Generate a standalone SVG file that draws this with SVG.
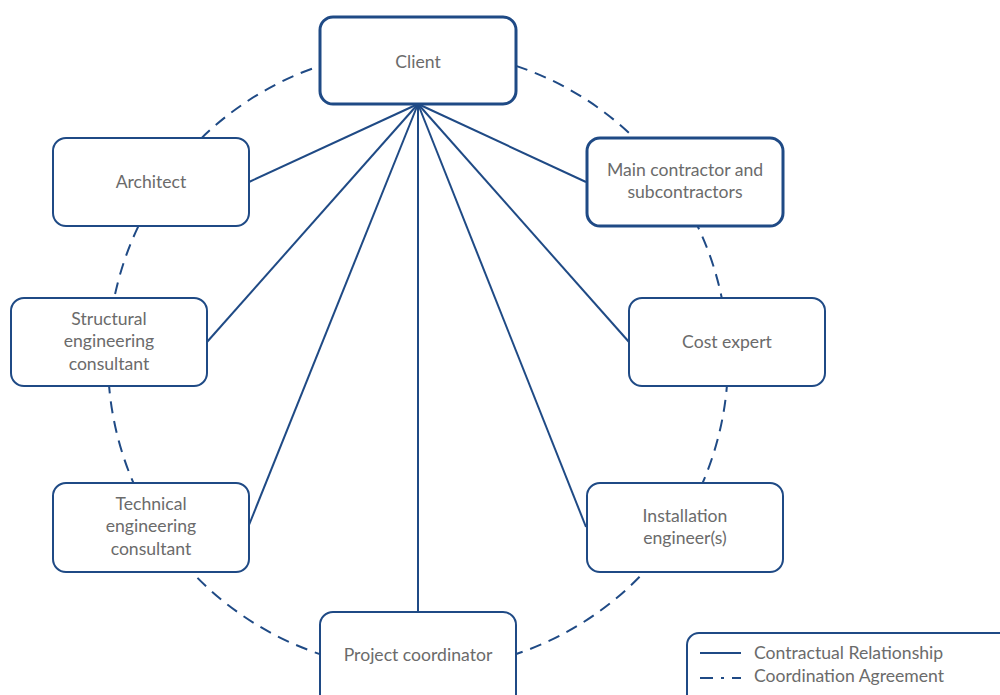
<svg xmlns="http://www.w3.org/2000/svg" width="1000" height="695" viewBox="0 0 1000 695">
  <style>
    .node { fill: #ffffff; stroke: #1f4a85; stroke-width: 2; }
    .key { fill: #ffffff; stroke: #1f4a85; stroke-width: 3; }
    .label { font-family: Lato, "Liberation Sans", sans-serif; font-size: 17.6px; fill: #6b6b6b; text-anchor: middle; }
    .legend-text { font-family: Lato, "Liberation Sans", sans-serif; font-size: 17.6px; fill: #6b6b6b; }
    .contract { stroke: #1f4a85; stroke-width: 2; fill: none; }
    .coord { stroke: #1f4a85; stroke-width: 2; fill: none; stroke-dasharray: 12 8; }
  </style>
  <rect width="1000" height="695" fill="#ffffff"/>

  <g id="connectors">
    <circle class="coord" cx="418" cy="360" r="310"/>
    <line class="contract" x1="418" y1="104" x2="249" y2="182"/>
    <line class="contract" x1="418" y1="104" x2="207" y2="342"/>
    <line class="contract" x1="418" y1="104" x2="249" y2="525"/>
    <line class="contract" x1="418" y1="104" x2="418" y2="612"/>
    <line class="contract" x1="418" y1="104" x2="586" y2="527"/>
    <line class="contract" x1="418" y1="104" x2="629" y2="342"/>
    <line class="contract" x1="418" y1="104" x2="586" y2="182"/>
  </g>

  <g id="client">
    <rect class="key" x="320" y="17" width="196" height="87" rx="13"/>
    <text class="label" x="418" y="68">Client</text>
  </g>
  <g id="architect">
    <rect class="node" x="53" y="138" width="196" height="88" rx="13"/>
    <text class="label" x="151" y="188">Architect</text>
  </g>
  <g id="main-contractor">
    <rect class="key" x="587" y="138" width="196" height="88" rx="13"/>
    <text class="label" x="685" y="176">Main contractor and</text>
    <text class="label" x="685" y="198">subcontractors</text>
  </g>
  <g id="structural">
    <rect class="node" x="11" y="298" width="196" height="88" rx="13"/>
    <text class="label" x="109" y="325">Structural</text>
    <text class="label" x="109" y="347">engineering</text>
    <text class="label" x="109" y="370">consultant</text>
  </g>
  <g id="cost-expert">
    <rect class="node" x="629" y="298" width="196" height="88" rx="13"/>
    <text class="label" x="727" y="348">Cost expert</text>
  </g>
  <g id="technical">
    <rect class="node" x="53" y="483" width="196" height="89" rx="13"/>
    <text class="label" x="151" y="510">Technical</text>
    <text class="label" x="151" y="532">engineering</text>
    <text class="label" x="151" y="555">consultant</text>
  </g>
  <g id="installation">
    <rect class="node" x="587" y="483" width="196" height="89" rx="13"/>
    <text class="label" x="685" y="522">Installation</text>
    <text class="label" x="685" y="544">engineer(s)</text>
  </g>
  <g id="project-coordinator">
    <rect class="node" x="320" y="612" width="196" height="95" rx="13"/>
    <text class="label" x="418" y="661">Project coordinator</text>
  </g>

  <g id="legend">
    <rect class="node" x="687" y="633" width="340" height="80" rx="12"/>
    <line class="contract" x1="700" y1="653" x2="741" y2="653"/>
    <line class="contract" x1="700" y1="678" x2="741" y2="678" stroke-dasharray="13 8 3 8"/>
    <text class="legend-text" x="754" y="659">Contractual Relationship</text>
    <text class="legend-text" x="754" y="682">Coordination Agreement</text>
  </g>
</svg>
